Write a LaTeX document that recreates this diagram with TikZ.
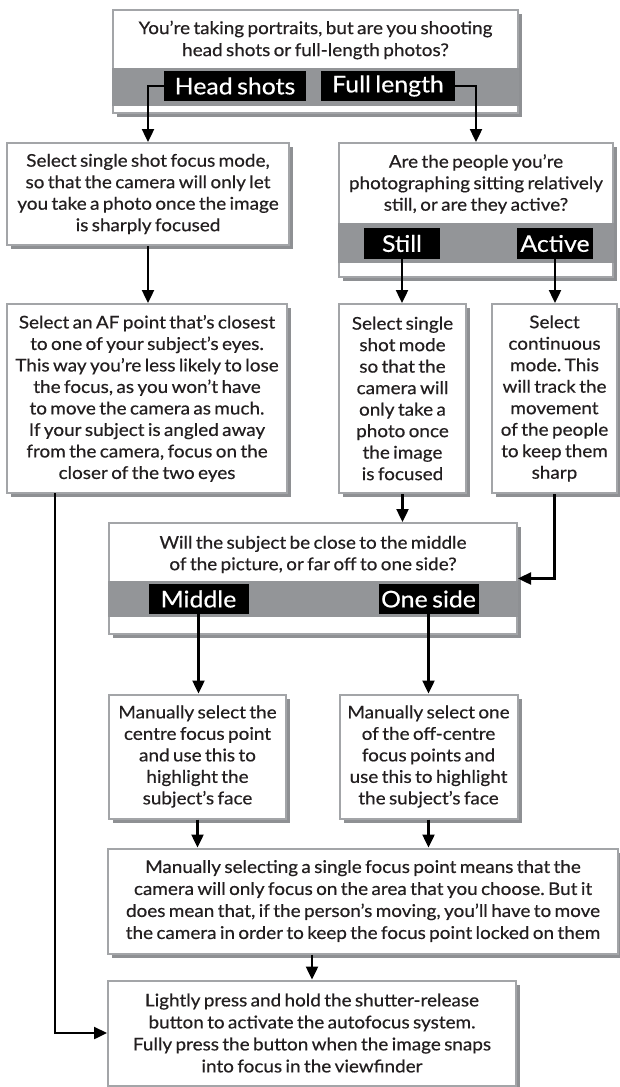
\documentclass[tikz,border=0pt]{standalone}
\usepackage{fontspec}
\setmainfont{Lato}[FakeStretch=1.08, FakeBold=0.45, WordSpace=0.7]
\usetikzlibrary{arrows.meta,shadows}
\definecolor{ink}{HTML}{231F20}
\definecolor{rim}{HTML}{A3A5A8}
\definecolor{shade}{HTML}{8E9093}
\definecolor{band}{HTML}{939598}
\frenchspacing
\begin{document}
\begin{tikzpicture}[x=1pt,y=-1pt,
  box/.style={draw=rim, line width=2pt, fill=white, inner sep=0pt,
    drop shadow={shadow xshift=4pt,shadow yshift=-4pt,fill=shade,opacity=1}},
  txt/.style={inner sep=0pt, align=center, text=ink,
    font=\fontsize{17.5}{21.5}\selectfont},
  wide/.style={txt, font=\fontsize{17.5}{22}\selectfont},
  tag/.style={fill=black, text=white, inner sep=0pt, minimum height=30pt,
    font=\fontsize{23}{23}\selectfont},
  link/.style={draw=black, line width=2.4pt, -{Triangle[width=12pt,length=13pt]}},
  wire/.style={draw=black, line width=2.4pt}]
\useasboundingbox (0,0) rectangle (620,1087);

% ---- first question ----
\node[box, minimum width=405pt, minimum height=103pt] (T) at (315.5,61.5) {};
\fill[band] (112,68) rectangle (519,106);
\node[wide] (Tq) at (315.5,40) {You’re taking portraits, but are you shooting\\head shots or full-length photos?};
\node[tag, minimum width=142pt] (hs) at (235,86) {Head shots};
\node[tag, minimum width=134pt] (fl) at (388,86) {Full length};

% ---- head shots branch ----
\node[box, txt, minimum width=282pt, minimum height=102pt] (A) at (148,194)
  {Select single shot focus mode,\\so that the camera will only let\\you take a photo once the image\\is sharply focused};
\node[box, txt, minimum width=280pt, minimum height=189pt] (C) at (147,398.5)
  {Select an AF point that’s closest\\to one of your subject’s eyes.\\This way you’re less likely to lose\\the focus, as you won’t have\\to move the camera as much.\\If your subject is angled away\\from the camera, focus on the\\closer of the two eyes};

% ---- full length branch ----
\node[box, minimum width=274pt, minimum height=134pt] (B) at (476,210) {};
\fill[band] (338,223) rectangle (614,263);
\node[txt] (Bq) at (476,184) {Are the people you’re\\photographing sitting relatively\\still, or are they active?};
\node[tag, minimum width=76pt, minimum height=31pt] (still) at (402,243.5) {Still};
\node[tag, minimum width=76pt, minimum height=31pt] (active) at (555,243.5) {Active};

\node[box, txt, minimum width=127pt, minimum height=189pt] (D) at (402.5,398.5)
  {Select single\\shot mode\\so that the\\camera will\\only take a\\photo once\\the image\\is focused};
\node[box, txt, minimum width=125pt, minimum height=189pt] (E) at (554.5,398.5)
  {Select\\continuous\\mode. This\\will track the\\movement\\of the people\\to keep them\\sharp};

% ---- position question ----
\node[box, minimum width=408pt, minimum height=111pt] (F) at (313,578.5) {};
\fill[band] (108,581) rectangle (518,617);
\node[txt] (Fq) at (313,554.5) {Will the subject be close to the middle\\of the picture, or far off to one side?};
\node[tag, minimum width=100pt] (mid) at (198.5,599) {Middle};
\node[tag, minimum width=100pt] (side) at (428.5,599) {One side};

\node[box, txt, minimum width=177pt, minimum height=124pt] (G) at (197.5,756.5)
  {Manually select the\\centre focus point\\and use this to\\highlight the\\subject’s face};
\node[box, txt, minimum width=178pt, minimum height=124pt] (H) at (428.5,756.5)
  {Manually select one\\of the off-centre\\focus points and\\use this to highlight\\the subject’s face};

\node[box, wide, minimum width=510pt, minimum height=105pt] (I) at (363,901)
  {Manually selecting a single focus point means that the\\camera will only focus on the area that you choose. But it\\does mean that, if the person’s moving, you’ll have to move\\the camera in order to keep the focus point locked on them};
\node[box, wide, minimum width=408pt, minimum height=105pt] (J) at (312,1033)
  {Lightly press and hold the shutter-release\\button to activate the autofocus system.\\Fully press the button when the image snaps\\into focus in the viewfinder};

% ---- connectors ----
\coordinate (cl) at (55,493);
\draw[link] (hs.west) -| (A.north);
\draw[link] (fl.east) -| (B.north);
\draw[link] (A.south) -- (A.south |- C.north);
\draw[link] (still.south) -- (still.south |- D.north);
\draw[link] (active.south) -- (active.south |- E.north);
\draw[link] (D.south) -- (D.south |- F.north);
\draw[link] (E.south) |- (F.east);
\draw[link] (mid.south) -- (mid.south |- G.north);
\draw[link] (side.south) -- (side.south |- H.north);
\draw[link] (G.south) -- (G.south |- I.north);
\draw[link] (H.south) -- (H.south |- I.north);
\draw[link] (J.north |- I.south) -- (J.north);
\draw[link] (cl) |- (J.west);
\end{tikzpicture}
\end{document}
